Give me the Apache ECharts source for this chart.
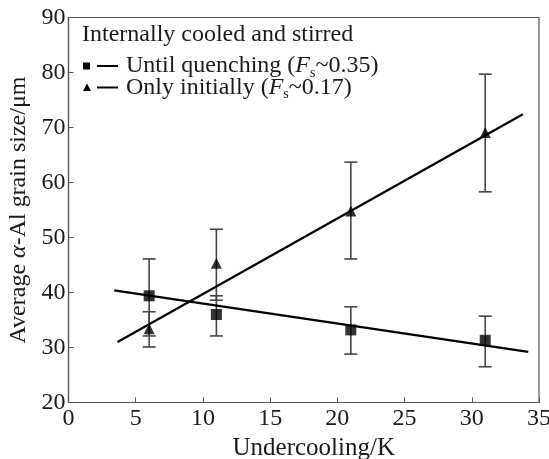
<!DOCTYPE html>
<html>
<head>
<meta charset="utf-8">
<script src="https://cdn.jsdelivr.net/npm/echarts@6/dist/echarts.min.js"></script>
<style>
  html, body { margin: 0; padding: 0; background: #fff; }
  #chart { width: 549px; height: 459px; }
</style>
</head>
<body>
<div id="chart"></div>
<script>
// undercooling (K) of the measured points
const undercooling = [6, 11, 21, 31]
// cooled and stirred until quenching (squares)
const quenchSize = [39.4, 36.0, 33.2, 31.3]
const quenchLow = [32.1, 32.1, 28.8, 26.5]
const quenchHigh = [46.1, 39.4, 37.4, 35.7]
// stirred only initially (triangles)
const initSize = [33.4, 45.3, 54.8, 69.1]
const initLow = [30.1, 38.6, 46.1, 58.3]
const initHigh = [36.5, 51.5, 63.7, 79.7]
// fitted trend lines, end points
const quenchFit = [[3.4, 40.4], [34.2, 29.2]]
const initFit = [[3.65, 31.0], [33.8, 72.4]]

const FONT = "'Liberation Serif', 'Times New Roman', Times, serif"
const INK = '#1a1a1a'

function errorBars(low, high) {
  return {
    type: 'custom',
    silent: true,
    z: 1,
    encode: { x: 0, y: [1, 2] },
    data: undercooling.map((x, i) => [x, low[i], high[i]]),
    renderItem(params, api) {
      const lo = api.coord([api.value(0), api.value(1)])
      const hi = api.coord([api.value(0), api.value(2)])
      const w = 6.5
      const st = { stroke: '#444', lineWidth: 1.6 }
      return {
        type: 'group',
        children: [
          { type: 'line', shape: { x1: lo[0], y1: lo[1], x2: hi[0], y2: hi[1] }, style: st },
          { type: 'line', shape: { x1: lo[0] - w, y1: lo[1], x2: lo[0] + w, y2: lo[1] }, style: st },
          { type: 'line', shape: { x1: hi[0] - w, y1: hi[1], x2: hi[0] + w, y2: hi[1] }, style: st }
        ]
      }
    }
  }
}

// legend row text with italic F and subscript s
function legendText(label, value) {
  return {
    text: '{t|' + label + ' (}{i|F}{s|s}{t|~' + value + ')}',
    verticalAlign: 'middle',
    rich: {
      t: { fontFamily: FONT, fontSize: 24, fill: INK },
      i: { fontFamily: FONT, fontSize: 24, fontStyle: 'italic', fill: INK },
      s: { fontFamily: FONT, fontSize: 14, fill: INK, padding: [14, 0, 0, 0] }
    }
  }
}

const chart = echarts.init(document.getElementById('chart'))
chart.setOption({
  animation: false,
  backgroundColor: '#fff',
  textStyle: { fontFamily: FONT },
  grid: {
    left: 68.5, right: 10, top: 17.5, bottom: 56.5,
    outerBoundsMode: 'none', containLabel: false,
    show: true, borderColor: '#555', borderWidth: 1.2
  },
  xAxis: {
    type: 'value', min: 0, max: 35, interval: 5,
    name: 'Undercooling/K', nameLocation: 'middle', nameGap: 33,
    nameTextStyle: { fontFamily: FONT, fontSize: 25, color: INK, padding: [0, 0, 0, 20] },
    axisLine: { show: true, lineStyle: { color: '#555', width: 1.2 } },
    axisTick: { show: true, inside: true, length: 5, lineStyle: { color: '#555' } },
    axisLabel: { fontFamily: FONT, fontSize: 24, color: INK, margin: 4 },
    splitLine: { show: false }
  },
  yAxis: {
    type: 'value', min: 20, max: 90, interval: 10,
    name: '{t|Average }{i|α}{t|-Al grain size/μm}', nameLocation: 'middle', nameGap: 33,
    nameTextStyle: {
      fontFamily: FONT, fontSize: 24, color: INK,
      rich: {
        t: { fontFamily: FONT, fontSize: 24, color: INK },
        i: { fontFamily: FONT, fontSize: 24, color: INK, fontStyle: 'italic' }
      }
    },
    axisLine: { show: true, lineStyle: { color: '#555', width: 1.2 } },
    axisTick: { show: true, inside: true, length: 5, lineStyle: { color: '#555' } },
    axisLabel: { fontFamily: FONT, fontSize: 24, color: INK, margin: 3 },
    splitLine: { show: false }
  },
  series: [
    errorBars(quenchLow, quenchHigh),
    errorBars(initLow, initHigh),
    {
      type: 'line', data: quenchFit, symbol: 'none', z: 2,
      lineStyle: { color: '#000', width: 2.2 }
    },
    {
      type: 'line', data: initFit, symbol: 'none', z: 2,
      lineStyle: { color: '#000', width: 2.2 }
    },
    {
      type: 'scatter', z: 3, symbol: 'rect', symbolSize: 11,
      itemStyle: { color: '#000' },
      data: undercooling.map((x, i) => [x, quenchSize[i]])
    },
    {
      type: 'scatter', z: 3, symbol: 'triangle', symbolSize: 11,
      itemStyle: { color: '#000' },
      data: undercooling.map((x, i) => [x, initSize[i]])
    }
  ],
  graphic: [
    {
      type: 'text', x: 82, y: 34.5,
      style: { text: 'Internally cooled and stirred', fontFamily: FONT, fontSize: 24, fill: INK, verticalAlign: 'middle' }
    },
    { type: 'rect', shape: { x: 83, y: 62.5, width: 7, height: 7 }, style: { fill: '#000' } },
    { type: 'line', shape: { x1: 97, y1: 66, x2: 118, y2: 66 }, style: { stroke: '#000', lineWidth: 2 } },
    { type: 'text', x: 126, y: 66, style: legendText('Until quenching', '0.35') },
    { type: 'polygon', shape: { points: [[87, 83.5], [83, 91], [91, 91]] }, style: { fill: '#000' } },
    { type: 'line', shape: { x1: 97, y1: 87.5, x2: 118, y2: 87.5 }, style: { stroke: '#000', lineWidth: 2 } },
    { type: 'text', x: 126, y: 87.5, style: legendText('Only initially', '0.17') }
  ]
})
</script>
</body>
</html>
